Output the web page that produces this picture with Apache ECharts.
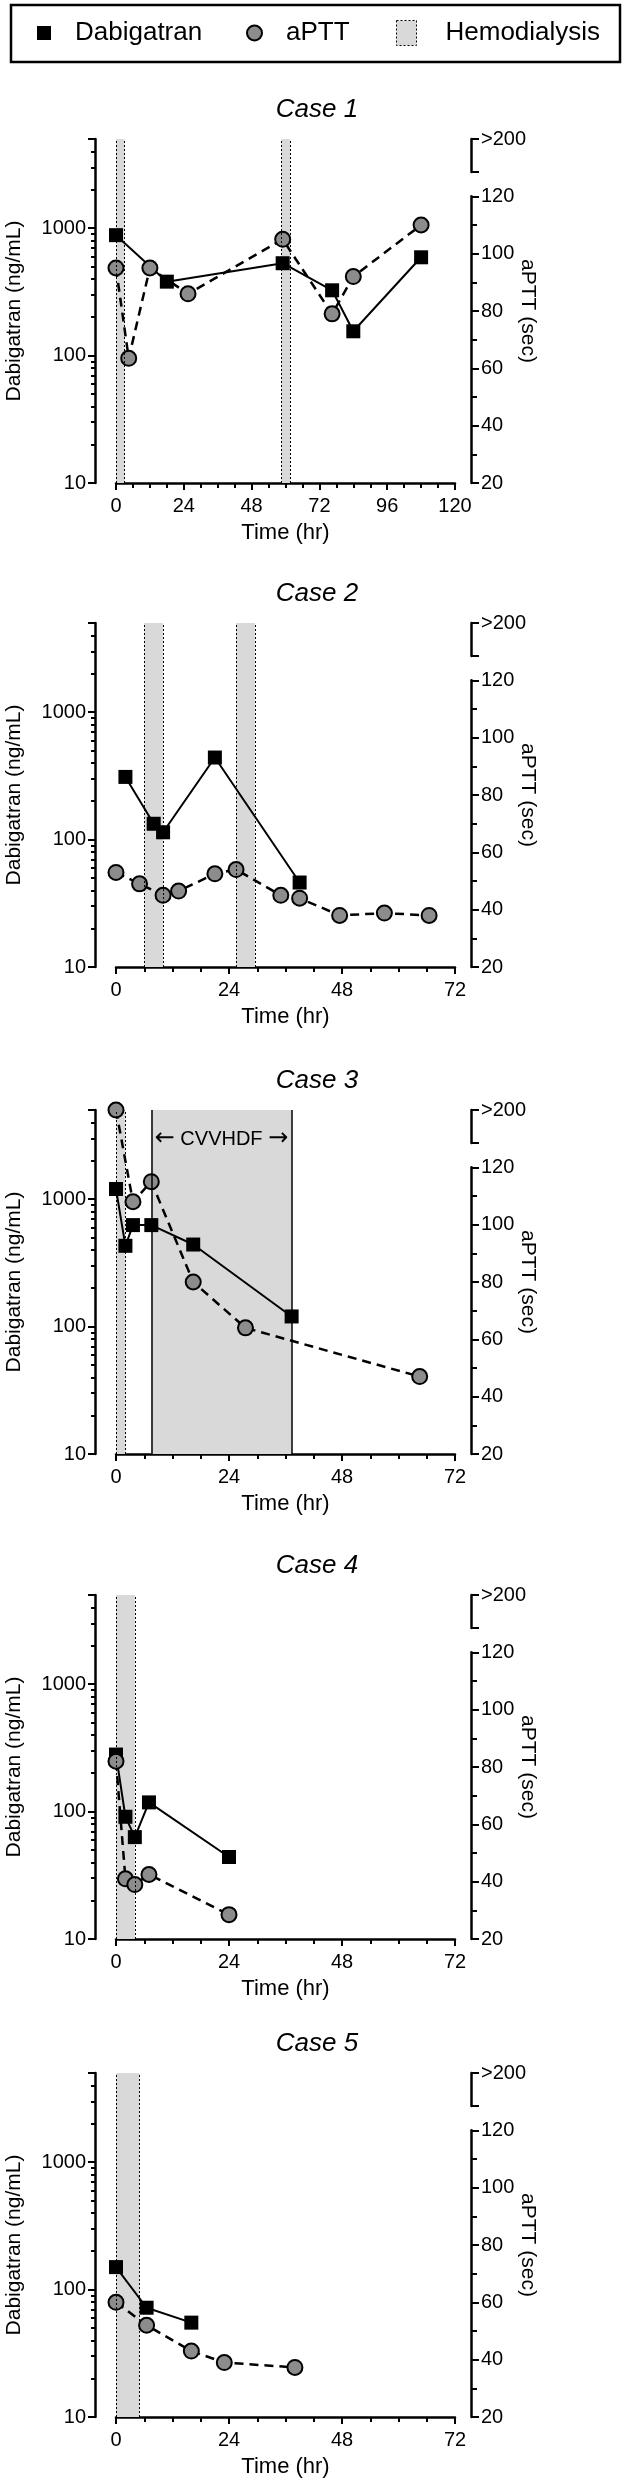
<!DOCTYPE html>
<html>
<head>
<meta charset="utf-8">
<script src="https://cdn.jsdelivr.net/npm/echarts@6/dist/echarts.min.js"></script>
<style>
html, body { margin: 0; padding: 0; background: #fff; }
#chart { width: 634px; height: 2486px; }
</style>
</head>
<body>
<div id="chart"></div>
<script>
//===============数据=================
// Case 1
var case1DabiTime = [0, 18, 59, 76.5, 84, 108];
var case1DabiConc = [880, 380, 530, 325, 155, 590];
var case1ApttTime = [0, 4.5, 12, 25.5, 59, 76.5, 84, 108];
var case1ApttSec = [95, 63.5, 95, 86, 105, 79, 92, 110];
var case1Dialysis = [[0, 3], [58.5, 61.7]];
// Case 2
var case2DabiTime = [2, 8, 10, 21, 39];
var case2DabiConc = [310, 133, 114, 440, 46];
var case2ApttTime = [0, 5, 10, 13.3, 21, 25.5, 35, 39, 47.5, 57, 66.5];
var case2ApttSec = [53, 49, 45, 46.5, 52.5, 54, 45, 44, 38, 38.8, 38];
var case2Dialysis = [[6, 10], [25.5, 29.5]];
// Case 3 (aPTT 140 = ">200", drawn on the top break segment)
var case3DabiTime = [0, 2, 3.6, 7.5, 16.4, 37.3];
var case3DabiConc = [1200, 430, 625, 625, 440, 120];
var case3ApttTime = [0, 3.6, 7.5, 16.4, 27.5, 64.5];
var case3ApttSec = [140, 108, 115, 80, 64, 47];
var case3Dialysis = [[0, 2]];
var case3Cvvhdf = [7.5, 37.3];
// Case 4
var case4DabiTime = [0, 2, 4, 7, 24];
var case4DabiConc = [280, 91, 63, 118, 44];
var case4ApttTime = [0, 2, 4, 7, 24];
var case4ApttSec = [82, 41, 39, 42.5, 28.5];
var case4Dialysis = [[0, 4]];
// Case 5
var case5DabiTime = [0, 6.5, 16];
var case5DabiConc = [150, 72, 55];
var case5ApttTime = [0, 6.5, 16, 23, 38];
var case5ApttSec = [60, 52, 43, 39, 37.3];
var case5Dialysis = [[0, 5]];

// 轴刻度
var dabiLabelTicks = [10, 100, 1000];
var dabiMajorTicks = [10, 100, 1000, 5000];
var dabiMinorTicks = [20, 30, 40, 50, 60, 70, 80, 90, 200, 300, 400, 500, 600, 700, 800, 900, 2000, 3000, 4000];
var apttBreakLabel = '>200';

var cases = [
    { title: 'Case 1', xMax: 120, dabiT: case1DabiTime, dabiV: case1DabiConc, apttT: case1ApttTime, apttV: case1ApttSec, hd: case1Dialysis, cv: null },
    { title: 'Case 2', xMax: 72, dabiT: case2DabiTime, dabiV: case2DabiConc, apttT: case2ApttTime, apttV: case2ApttSec, hd: case2Dialysis, cv: null },
    { title: 'Case 3', xMax: 72, dabiT: case3DabiTime, dabiV: case3DabiConc, apttT: case3ApttTime, apttV: case3ApttSec, hd: case3Dialysis, cv: case3Cvvhdf },
    { title: 'Case 4', xMax: 72, dabiT: case4DabiTime, dabiV: case4DabiConc, apttT: case4ApttTime, apttV: case4ApttSec, hd: case4Dialysis, cv: null },
    { title: 'Case 5', xMax: 72, dabiT: case5DabiTime, dabiV: case5DabiConc, apttT: case5ApttTime, apttV: case5ApttSec, hd: case5Dialysis, cv: null }
];

//===============布局=================
var FONT = 'Liberation Sans, Arial, sans-serif';
var plotTops = [139, 623, 1110, 1595, 2073];
var plotH = 344;
var plotLeft = 116;
var plotW = 339;
var rightAxisX = 471;
var apttMin = 20, apttMax = 140, apttAxisTop = 120;
var breakH = 33;
var AXIS_W = 2.5;

function zip(a, b) {
    var out = [];
    for (var i = 0; i < a.length; i++) {
        out.push([a[i], b[i]]);
    }
    return out;
}

var grids = [], xAxes = [], yAxes = [], series = [], titles = [];

for (var k = 0; k < cases.length; k++) {
    var c = cases[k];
    var T = plotTops[k];
    var gi = grids.length;
    var xi = xAxes.length;
    var yi = yAxes.length;

    // main plot, right 20-120 axis, >200 segment
    grids.push({ left: plotLeft, top: T, width: plotW, height: plotH, outerBoundsMode: 'none' });
    var visH = plotH * (apttAxisTop - apttMin) / (apttMax - apttMin);
    grids.push({ left: rightAxisX - 12, top: T + plotH - visH, width: 12, height: visH, outerBoundsMode: 'none' });
    grids.push({ left: rightAxisX - 12, top: T, width: 12, height: breakH, outerBoundsMode: 'none' });

    titles.push({
        text: c.title, left: 317, top: T - 42, textAlign: 'center', padding: 0,
        textStyle: { fontSize: 26, fontStyle: 'italic', fontWeight: 'normal', color: '#000', fontFamily: FONT }
    });

    xAxes.push({
        gridIndex: gi, type: 'value', min: 0, max: c.xMax, interval: 24,
        axisLine: { onZero: false, lineStyle: { color: '#000', width: AXIS_W } },
        axisTick: { length: 7, lineStyle: { color: '#000', width: 2 } },
        minorTick: { show: true, splitNumber: 4, length: 5, lineStyle: { color: '#000', width: 2 } },
        splitLine: { show: false },
        axisLabel: { fontSize: 20, color: '#000', margin: 13, fontFamily: FONT },
        name: 'Time (hr)', nameLocation: 'middle', nameGap: 39,
        nameTextStyle: { fontSize: 22, color: '#000', fontFamily: FONT }
    });
    xAxes.push({ gridIndex: gi + 1, type: 'value', show: false, min: 0, max: 1 });
    xAxes.push({ gridIndex: gi + 2, type: 'value', show: false, min: 0, max: 1 });

    // left log axis
    yAxes.push({
        gridIndex: gi, type: 'log', logBase: 10, min: 10, max: 5000, position: 'left', offset: 21,
        axisLine: { show: true, onZero: false, lineStyle: { color: '#000', width: AXIS_W } },
        axisTick: { show: true, length: 7, customValues: dabiMajorTicks, lineStyle: { color: '#000', width: 2 } },
        axisLabel: {
            customValues: dabiLabelTicks, fontSize: 20, color: '#000', margin: 9, fontFamily: FONT,
            formatter: function (v) { return String(Math.round(v)); }
        },
        splitLine: { show: false },
        name: 'Dabigatran (ng/mL)', nameLocation: 'middle', nameGap: 70,
        nameTextStyle: { fontSize: 21, color: '#000', fontFamily: FONT }
    });
    yAxes.push({
        gridIndex: gi, type: 'log', logBase: 10, min: 10, max: 5000, position: 'left', offset: 21,
        axisLine: { show: false, onZero: false },
        axisTick: { show: true, length: 4, customValues: dabiMinorTicks, lineStyle: { color: '#000', width: 2 } },
        axisLabel: { show: false },
        splitLine: { show: false }
    });
    // hidden aPTT scale for the whole plot height, carries the name
    yAxes.push({
        gridIndex: gi, type: 'value', min: apttMin, max: apttMax, position: 'right',
        axisLine: { show: false, onZero: false }, axisTick: { show: false }, axisLabel: { show: false },
        splitLine: { show: false },
        name: 'aPTT (sec)', nameLocation: 'middle', nameRotate: -90, nameGap: 62,
        nameTextStyle: { fontSize: 21, color: '#000', fontFamily: FONT }
    });
    yAxes.push({
        gridIndex: gi + 1, type: 'value', min: apttMin, max: apttAxisTop, interval: 20, position: 'right',
        axisLine: { show: true, onZero: false, lineStyle: { color: '#000', width: AXIS_W } },
        axisTick: { length: 8, lineStyle: { color: '#000', width: 2 } },
        minorTick: { show: true, splitNumber: 2, length: 6, lineStyle: { color: '#000', width: 2 } },
        axisLabel: { fontSize: 20, color: '#000', margin: 10, fontFamily: FONT },
        splitLine: { show: false }
    });
    yAxes.push({
        gridIndex: gi + 2, type: 'value', min: 0, max: 1, interval: 1, position: 'right',
        axisLine: { show: true, onZero: false, lineStyle: { color: '#000', width: AXIS_W } },
        axisTick: { length: 8, lineStyle: { color: '#000', width: 2 } },
        axisLabel: {
            fontSize: 20, color: '#000', margin: 10, fontFamily: FONT,
            formatter: function (v) { return v === 1 ? apttBreakLabel : ''; }
        },
        splitLine: { show: false }
    });

    // hemodialysis bands
    var hdAreas = [], hdEdges = [];
    for (var b = 0; b < c.hd.length; b++) {
        hdAreas.push([{ xAxis: c.hd[b][0] }, { xAxis: c.hd[b][1] }]);
        hdEdges.push({ xAxis: c.hd[b][0] });
        hdEdges.push({ xAxis: c.hd[b][1] });
    }
    series.push({
        name: 'Hemodialysis', type: 'line', xAxisIndex: xi, yAxisIndex: yi, data: [], z: 1,
        itemStyle: { color: '#d9d9d9', borderColor: '#000', borderWidth: 1, borderType: [2, 2] },
        markArea: { silent: true, itemStyle: { color: '#d9d9d9' }, data: hdAreas },
        markLine: {
            silent: true, symbol: ['none', 'none'], label: { show: false },
            lineStyle: { color: '#000', width: 1, type: [2, 2] }, data: hdEdges
        }
    });

    if (c.cv) {
        series.push({
            name: 'CVVHDF', type: 'line', xAxisIndex: xi, yAxisIndex: yi, data: [], z: 1,
            markArea: {
                silent: true, itemStyle: { color: '#d9d9d9' },
                label: {
                    show: true, position: 'insideTop', distance: 17,
                    formatter: '{a|\u2190} CVVHDF {a|\u2192}',
                    fontSize: 20, color: '#000', fontFamily: FONT,
                    rich: { a: { fontFamily: 'DejaVu Sans', fontSize: 24, color: '#000' } }
                },
                data: [[{ xAxis: c.cv[0] }, { xAxis: c.cv[1] }]]
            },
            markLine: {
                silent: true, symbol: ['none', 'none'], label: { show: false },
                lineStyle: { color: '#000', width: 1.5, type: 'solid' },
                data: [{ xAxis: c.cv[0] }, { xAxis: c.cv[1] }]
            }
        });
    }

    series.push({
        name: 'Dabigatran', type: 'line', xAxisIndex: xi, yAxisIndex: yi, z: 3,
        data: zip(c.dabiT, c.dabiV),
        symbol: 'rect', symbolSize: 14,
        itemStyle: { color: '#000' },
        lineStyle: { color: '#000', width: 2 }
    });
    series.push({
        name: 'aPTT', type: 'line', xAxisIndex: xi, yAxisIndex: yi + 2, z: 4,
        data: zip(c.apttT, c.apttV),
        symbol: 'circle', symbolSize: 15,
        itemStyle: { color: '#8c8c8c', borderColor: '#000', borderWidth: 2 },
        lineStyle: { color: '#000', width: 2.5, type: [9, 6] }
    });
}

var legendText = { fontSize: 26, color: '#000', fontFamily: FONT, lineHeight: 26 };

var option = {
    animation: false,
    textStyle: { fontFamily: FONT },
    title: titles,
    legend: [{
        left: 37, top: 20, padding: 0, selectedMode: false, itemWidth: 14, itemHeight: 14,
        data: [{ name: 'Dabigatran', icon: 'rect' }],
        textStyle: Object.assign({ padding: [0, 0, 0, 19] }, legendText)
    }, {
        left: 246, top: 20, padding: 0, selectedMode: false, itemWidth: 15, itemHeight: 15,
        data: [{ name: 'aPTT', icon: 'circle' }],
        textStyle: Object.assign({ padding: [0, 0, 0, 19] }, legendText)
    }, {
        left: 396, top: 20, padding: 0, selectedMode: false, itemWidth: 20, itemHeight: 25,
        data: [{
            name: 'Hemodialysis', icon: 'rect',
            itemStyle: { color: '#d9d9d9', borderColor: '#000', borderWidth: 1, borderType: [2, 2] }
        }],
        textStyle: Object.assign({ padding: [0, 0, 0, 24] }, legendText)
    }],
    graphic: [{
        type: 'rect', silent: true,
        shape: { x: 11, y: 5, width: 609, height: 57 },
        style: { fill: 'none', stroke: '#000', lineWidth: 2.5 }
    }],
    grid: grids,
    xAxis: xAxes,
    yAxis: yAxes,
    series: series
};

var myChart = echarts.init(document.getElementById('chart'));
myChart.setOption(option);
</script>
</body>
</html>
